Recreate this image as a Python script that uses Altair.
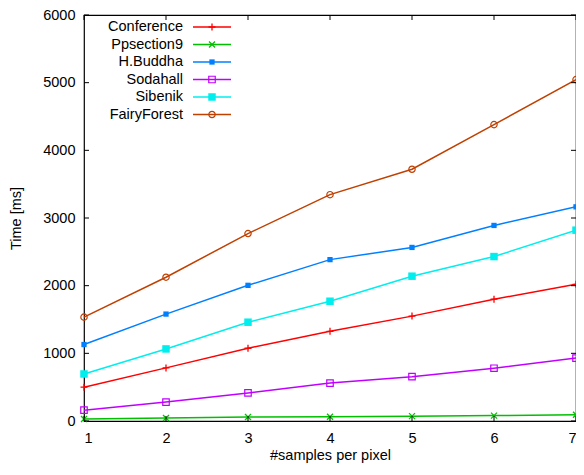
import altair as alt
import pandas as pd

samples = [1, 2, 3, 4, 5, 6, 7]
series_names = ["Conference", "Ppsection9", "H.Buddha", "Sodahall", "Sibenik", "FairyForest"]
conference = [500, 785, 1075, 1325, 1550, 1800, 2020]
ppsection9 = [30, 44, 58, 62, 72, 80, 92]
hbuddha = [1130, 1580, 2005, 2385, 2565, 2890, 3165]
sodahall = [160, 280, 415, 560, 655, 780, 930]
sibenik = [695, 1065, 1460, 1770, 2140, 2430, 2820]
fairyforest = [1535, 2125, 2770, 3345, 3720, 4380, 5045]
values = [conference, ppsection9, hbuddha, sodahall, sibenik, fairyforest]

colors = ["#ff0000", "#00c000", "#0080ff", "#c000ff", "#00eeee", "#c04000"]
PLUS = "M-1,0L1,0M0,-1L0,1"
XCROSS = "M-1,-1L1,1M-1,1L1,-1"
marks_style = [
    dict(shape=PLUS, size=49, filled=False, strokeWidth=1.3),
    dict(shape=XCROSS, size=36, filled=False, strokeWidth=1.3),
    dict(shape="square", size=28, filled=True, strokeWidth=1.2),
    dict(shape="square", size=42, filled=False, strokeWidth=1.2),
    dict(shape="square", size=56, filled=True, strokeWidth=1),
    dict(shape="circle", size=40, filled=False, strokeWidth=1.2),
]

x_ticks = samples
y_ticks = [0, 1000, 2000, 3000, 4000, 5000, 6000]

W, H = 492, 406
FONT = "Liberation Sans"
FS = 14.5

xs = alt.Scale(domain=[1, 7], nice=False)
ys = alt.Scale(domain=[0, 6000], nice=False)


def point_props(i):
    st = marks_style[i]
    pm = dict(shape=st["shape"], size=st["size"], filled=st["filled"],
              strokeWidth=st["strokeWidth"], opacity=1)
    if st["filled"]:
        pm["color"] = colors[i]
    else:
        pm["stroke"] = colors[i]
        pm["fill"] = "transparent"
    return pm


layers = []
for i, name in enumerate(series_names):
    df = pd.DataFrame({"s": samples, "t": values[i]})
    base = alt.Chart(df).encode(
        x=alt.X("s:Q", scale=xs,
                axis=alt.Axis(values=x_ticks, title="#samples per pixel", grid=False,
                              ticks=False, domain=False, labelPadding=10,
                              titlePadding=4, format="d")),
        y=alt.Y("t:Q", scale=ys,
                axis=alt.Axis(values=y_ticks, title="Time [ms]", grid=False,
                              ticks=False, domain=False, labelPadding=9,
                              titlePadding=19, format="d")),
    )
    layers.append(base.mark_line(color=colors[i], strokeWidth=1.5))
    layers.append(base.mark_point(**point_props(i)))

# inward tick marks (gnuplot style), mirrored
ytdf = pd.DataFrame({"v": y_ticks})
xtdf = pd.DataFrame({"v": x_ticks})
TL = 5
layers.append(alt.Chart(ytdf).mark_rule(color="#000", strokeWidth=1).encode(
    y=alt.Y("v:Q", scale=ys), x=alt.value(0), x2=alt.value(TL)))
layers.append(alt.Chart(ytdf).mark_rule(color="#000", strokeWidth=1).encode(
    y=alt.Y("v:Q", scale=ys), x=alt.value(W - TL), x2=alt.value(W)))
layers.append(alt.Chart(xtdf).mark_rule(color="#000", strokeWidth=1).encode(
    x=alt.X("v:Q", scale=xs), y=alt.value(H), y2=alt.value(H - TL)))
layers.append(alt.Chart(xtdf).mark_rule(color="#000", strokeWidth=1).encode(
    x=alt.X("v:Q", scale=xs), y=alt.value(0), y2=alt.value(TL)))

# key (legend) in the top-left, gnuplot style
ROW0, ROWH = 12, 17.5
TX, L0, L1 = 99, 109, 147
for i, name in enumerate(series_names):
    ry = ROW0 + i * ROWH
    ldf = pd.DataFrame({"name": [name]})
    layers.append(alt.Chart(ldf).mark_text(align="right", baseline="middle", font=FONT,
                                          fontSize=FS, color="#000").encode(
        text="name:N", x=alt.value(TX), y=alt.value(ry)))
    layers.append(alt.Chart(ldf).mark_rule(color=colors[i], strokeWidth=1.5).encode(
        x=alt.value(L0), x2=alt.value(L1), y=alt.value(ry)))
    layers.append(alt.Chart(ldf).mark_point(**point_props(i)).encode(
        x=alt.value((L0 + L1) / 2), y=alt.value(ry)))

chart = alt.layer(*layers).properties(
    width=W, height=H,
    autosize=alt.AutoSizeParams(type="none"),
    padding={"left": 76, "top": 7, "right": 0, "bottom": 46},
    background="white",
).configure_view(stroke="#000", strokeWidth=1.2).configure_axis(
    labelFont=FONT, titleFont=FONT, labelFontSize=FS, titleFontSize=FS,
    labelColor="#000", titleColor="#000", titleFontWeight="normal",
)

chart.save("out.html", embed_options={"renderer": "svg", "actions": False})
